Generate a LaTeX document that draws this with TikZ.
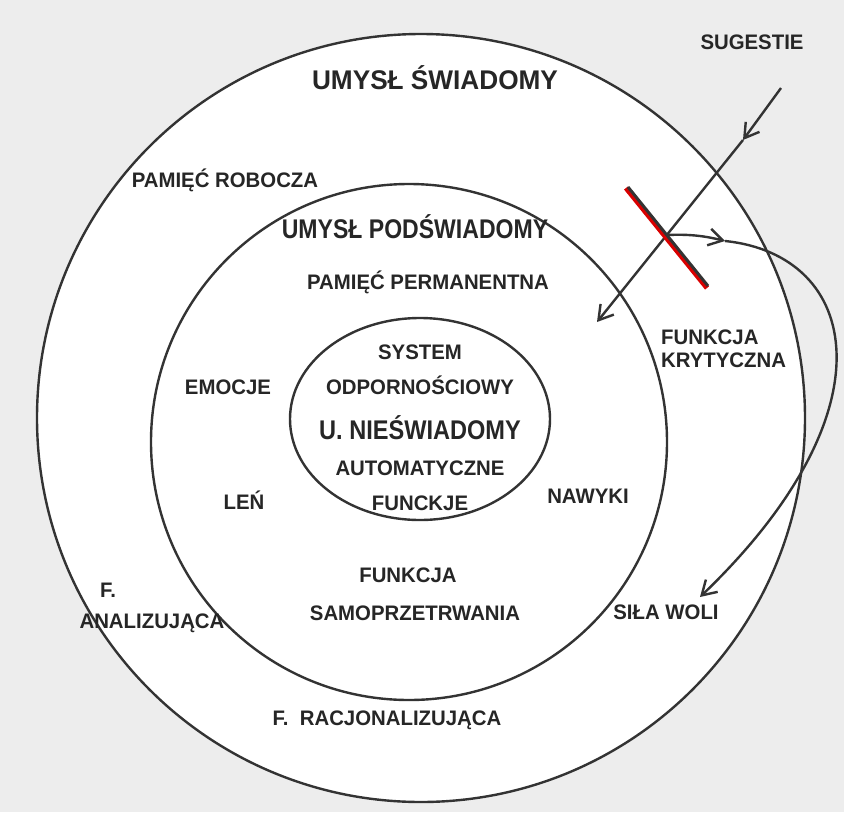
\documentclass[tikz,border=0pt]{standalone}
\usepackage{fontspec}
\setmainfont{Liberation Sans}
\usetikzlibrary{arrows.meta}
\begin{document}
\begin{tikzpicture}[x=1pt,y=-1pt,
  lbl/.style={font=\bfseries\fontsize{21}{25}\selectfont, text=black!85, inner sep=1pt, align=center, xscale=0.97},
  big/.style={font=\bfseries\fontsize{27}{30}\selectfont, text=black!85, inner sep=1pt, xscale=0.97},
  ln/.style={line width=2.4pt, draw=black!80},
  tip/.style={-{Straight Barb[length=14pt,width=17pt,line width=2.4pt]}}]
\fill[black!7] (0,0) rectangle (844,812);
\useasboundingbox (0,0) rectangle (844,812);
\draw[ln, fill=white] (421,418) circle (384);
\draw[ln] (409,442) circle (258);
\draw[ln] (420,419) ellipse (130 and 101);
\coordinate (s0) at (781,88);
\coordinate (sm) at (743,140);
\coordinate (s1) at (597,322);
\draw[ln, tip] (s0) -- (sm);
\draw[ln, tip] (sm) -- (s1);
\draw[line width=5pt, draw=red!85!black] (626,188) -- (707,288);
\draw[line width=3pt, draw=black!80] (628,187) -- (708,286);
\coordinate (c0) at (667,235);
\coordinate (cm) at (725,241);
\coordinate (c1) at (700,597);
\draw[ln, tip] (c0) .. controls (690,234) and (705,236) .. (cm);
\draw[ln, tip] (cm) .. controls (860,255) and (895,410) .. (c1);
\node[lbl] (sug) at (752,42) {SUGESTIE};
\node[big] (us) at (435,78) {UMYSŁ ŚWIADOMY};
\node[lbl] (pr) at (225,180) {PAMIĘĆ ROBOCZA};
\node[big, xscale=0.88] (up) at (415,227) {UMYSŁ PODŚWIADOMY};
\node[lbl] (pp) at (428,282) {PAMIĘĆ PERMANENTNA};
\node[lbl, align=left, anchor=west] (fk) at (660,349) {FUNKCJA\\[-2pt]KRYTYCZNA};
\node[lbl] (sys) at (420,352) {SYSTEM};
\node[lbl] (odp) at (420,385) {ODPORNOŚCIOWY};
\node[lbl] (emo) at (228,387) {EMOCJE};
\node[big, xscale=0.9] (un) at (420,428) {U. NIEŚWIADOMY};
\node[lbl] (aut) at (420,468) {AUTOMATYCZNE};
\node[lbl] (fun) at (420,503) {FUNCKJE};
\node[lbl] (len) at (244,500) {LEŃ};
\node[lbl] (naw) at (588,496) {NAWYKI};
\node[lbl] (f1) at (108,590) {F.};
\node[lbl] (an) at (152,623) {ANALIZUJĄCA};
\node[lbl] (fs) at (408,575) {FUNKCJA};
\node[lbl] (sam) at (415,613) {SAMOPRZETRWANIA};
\node[lbl] (sw) at (666,612) {SIŁA WOLI};
\node[lbl] (fr) at (387,720) {F.\ \ RACJONALIZUJĄCA};
\end{tikzpicture}
\end{document}
